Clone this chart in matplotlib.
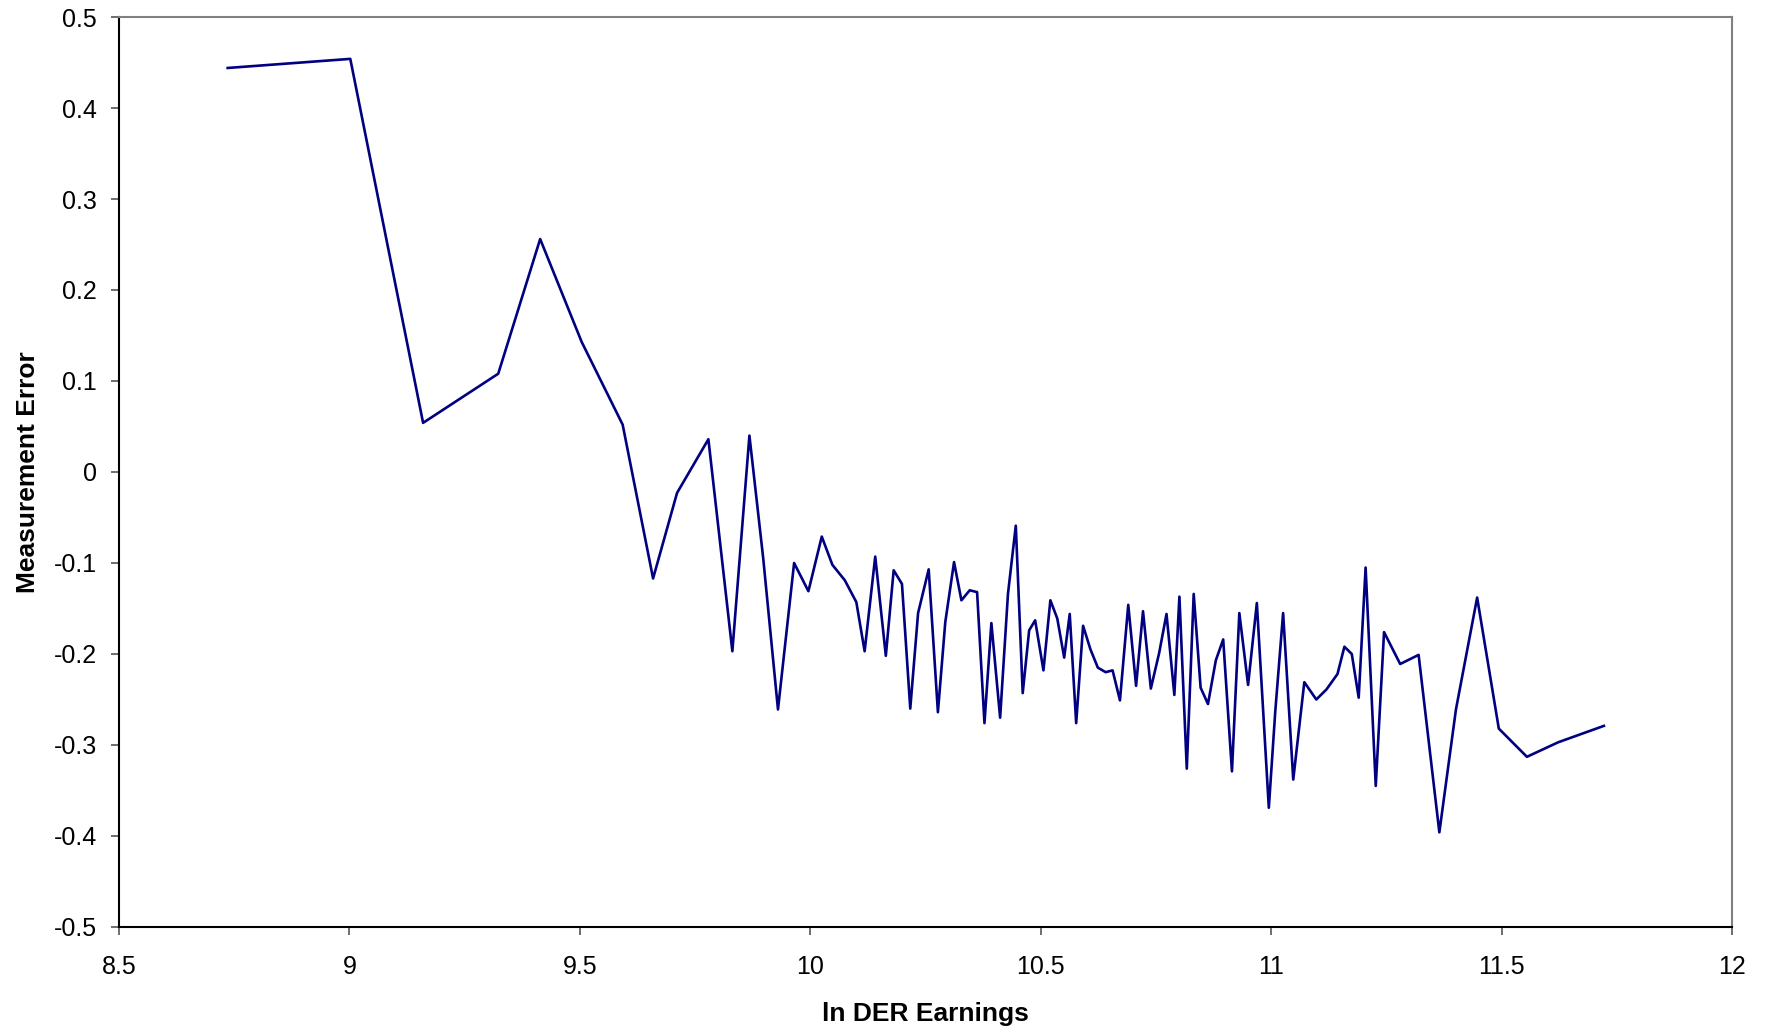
import matplotlib
matplotlib.use('Agg')
import matplotlib.pyplot as plt

# Data
ln_der_earnings = [
    8.736, 9.002, 9.160, 9.323, 9.414, 9.504, 9.593, 9.659, 9.711, 9.779,
    9.831, 9.868, 9.898, 9.930, 9.965, 9.996, 10.025, 10.048, 10.075, 10.100,
    10.118, 10.141, 10.164, 10.181, 10.199, 10.217, 10.234, 10.257, 10.277, 10.293,
    10.312, 10.328, 10.346, 10.362, 10.378, 10.393, 10.412, 10.429, 10.446, 10.461,
    10.475, 10.488, 10.506, 10.521, 10.536, 10.551, 10.563, 10.577, 10.592, 10.608,
    10.624, 10.641, 10.656, 10.672, 10.690, 10.707, 10.722, 10.739, 10.757, 10.773,
    10.790, 10.801, 10.817, 10.832, 10.847, 10.863, 10.880, 10.896, 10.915, 10.931,
    10.950, 10.969, 10.995, 11.009, 11.026, 11.048, 11.072, 11.098, 11.120, 11.144,
    11.159, 11.175, 11.190, 11.205, 11.227, 11.245, 11.280, 11.320, 11.365, 11.401,
    11.447, 11.494, 11.555, 11.623, 11.722,
]
measurement_error = [
    0.444, 0.454, 0.054, 0.108, 0.256, 0.143, 0.052, -0.117, -0.023, 0.036,
    -0.197, 0.040, -0.095, -0.261, -0.100, -0.131, -0.071, -0.102, -0.119, -0.143,
    -0.197, -0.093, -0.202, -0.108, -0.123, -0.260, -0.155, -0.107, -0.264, -0.165,
    -0.099, -0.141, -0.130, -0.132, -0.276, -0.166, -0.270, -0.134, -0.059, -0.243,
    -0.174, -0.163, -0.218, -0.141, -0.161, -0.204, -0.156, -0.276, -0.169, -0.195,
    -0.215, -0.220, -0.218, -0.251, -0.146, -0.235, -0.153, -0.238, -0.199, -0.156,
    -0.245, -0.137, -0.326, -0.134, -0.237, -0.255, -0.207, -0.184, -0.329, -0.155,
    -0.234, -0.144, -0.369, -0.263, -0.155, -0.338, -0.231, -0.250, -0.239, -0.222,
    -0.192, -0.200, -0.248, -0.105, -0.345, -0.176, -0.211, -0.201, -0.396, -0.261,
    -0.138, -0.282, -0.313, -0.297, -0.279,
]

x_ticks = [8.5, 9, 9.5, 10, 10.5, 11, 11.5, 12]
x_tick_labels = ['8.5', '9', '9.5', '10', '10.5', '11', '11.5', '12']
y_ticks = [-0.5, -0.4, -0.3, -0.2, -0.1, 0, 0.1, 0.2, 0.3, 0.4, 0.5]
y_tick_labels = ['-0.5', '-0.4', '-0.3', '-0.2', '-0.1', '0', '0.1', '0.2', '0.3', '0.4', '0.5']

plt.rcParams['font.family'] = ['Liberation Sans', 'DejaVu Sans']

fig = plt.figure(figsize=(17.67, 10.31), dpi=100)
ax = fig.add_axes([0.0673, 0.1009, 0.9129, 0.8826])

ax.plot(ln_der_earnings, measurement_error, color='#000080', linewidth=1.9)

ax.set_xlim(8.5, 12)
ax.set_ylim(-0.5, 0.5)
ax.set_xticks(x_ticks)
ax.set_xticklabels(x_tick_labels)
ax.set_yticks(y_ticks)
ax.set_yticklabels(y_tick_labels)

# Excel-style frame: dark left/bottom, grey top/right
ax.spines['left'].set_color('black')
ax.spines['bottom'].set_color('black')
ax.spines['top'].set_color('#808080')
ax.spines['right'].set_color('#808080')
for s in ax.spines.values():
    s.set_linewidth(1.5)

ax.tick_params(axis='both', direction='out', length=6, width=1.2,
               color='#555555', labelsize=18, labelcolor='black')
ax.tick_params(axis='x', pad=14)
ax.tick_params(axis='y', pad=10)

ax.set_xlabel('ln DER Earnings', fontsize=19, fontweight='bold', labelpad=17)
ax.set_ylabel('Measurement Error', fontsize=19, fontweight='bold', labelpad=10)

fig.savefig('out.png', dpi=100)
